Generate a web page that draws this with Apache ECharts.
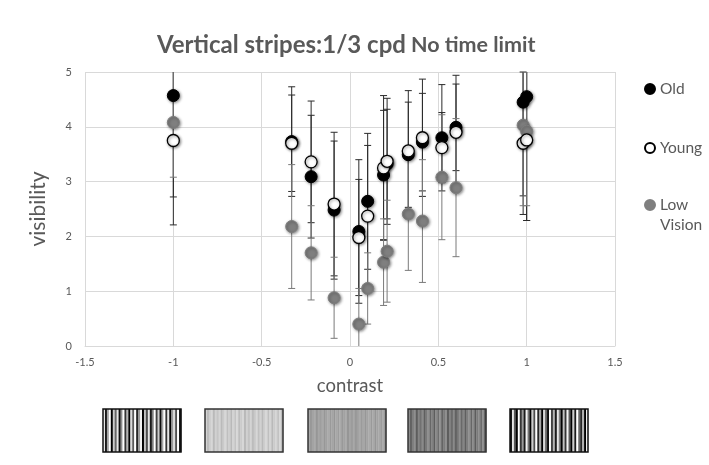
<!DOCTYPE html>
<html>
<head>
<meta charset="utf-8">
<script src="https://cdn.jsdelivr.net/npm/echarts@6/dist/echarts.min.js"></script>
<style>
html, body { margin: 0; padding: 0; background: #fff; }
#chart { width: 709px; height: 465px; }
</style>
</head>
<body>
<div id="chart"></div>
<script>
// contrast of each tested grating (x)
var contrastLevels = [-1, -0.33, -0.22, -0.09, 0.05, 0.10, 0.19, 0.21, 0.33, 0.41, 0.52, 0.60, 0.98, 1.00];

// mean visibility and error bar half-lengths per group
var oldMean   = [4.57, 3.73, 3.09, 2.48, 2.09, 2.64, 3.12, 3.32, 3.49, 3.72, 3.80, 3.99, 4.45, 4.55];
var oldErr    = [1.85, 1.00, 1.12, 1.26, 1.31, 1.24, 1.18, 1.00, 0.96, 0.89, 0.97, 0.79, 1.71, 2.26];
var youngMean = [3.75, 3.70, 3.36, 2.59, 1.98, 2.37, 3.25, 3.37, 3.56, 3.80, 3.62, 3.90, 3.70, 3.76];
var youngErr  = [1.54, 0.88, 1.11, 1.31, 1.06, 1.29, 1.32, 1.15, 1.10, 1.07, 0.64, 1.04, 1.30, 1.47];
var lowMean   = [4.08, 2.18, 1.70, 0.88, 0.40, 1.05, 1.53, 1.73, 2.41, 2.28, 3.08, 2.89, 4.03, 3.92];
var lowErr    = [1.00, 1.13, 0.86, 0.74, 0.65, 0.65, 0.79, 0.93, 1.03, 1.12, 1.14, 1.26, 1.47, 1.36];

var xTicks = { min: -1.5, max: 1.5, step: 0.5 };
var yTicks = { min: 0, max: 5, step: 1 };

// grating patches under the axis (hand picked stripe profile)
var stripeProfile = [0.9, -0.8, 0.3, 1, -1, 0.6, -0.2, 0.8, -0.9, 0.1, 1, -0.6, 0.4, -1, 0.7, -0.3,
                     1, -0.7, 0.2, 0.9, -1, 0.5, -0.4, 0.8, -0.8, 0.0, 1, -0.5, 0.6, -0.9, 0.3, 1,
                     -0.6, 0.8, -1, 0.2, 0.7, -0.4, 1, -0.9];
var patchMean     = [128, 200, 160, 118, 128];
var patchContrast = [1, 0.12, 0.08, 0.2, -1];
var patchLeft     = [103, 205, 308, 408, 510];

var textColor = '#595959';
var fontFamily = 'Lato, "Open Sans", sans-serif';

var chart = echarts.init(document.getElementById('chart'));

function pairs(means, errs) {
  return contrastLevels.map(function (c, i) { return [c, means[i], errs[i]]; });
}

function errorBars(color) {
  return function (params, api) {
    var x = api.value(0), y = api.value(1), e = api.value(2);
    var hi = Math.min(y + e, yTicks.max);
    var lo = Math.max(y - e, yTicks.min);
    var pHi = api.coord([x, hi]);
    var pLo = api.coord([x, lo]);
    var st = { stroke: color, lineWidth: 1 };
    var kids = [{ type: 'line', shape: { x1: pHi[0], y1: pHi[1], x2: pLo[0], y2: pLo[1] }, style: st }];
    if (y + e <= yTicks.max) {
      kids.push({ type: 'line', shape: { x1: pHi[0] - 3.5, y1: pHi[1], x2: pHi[0] + 3.5, y2: pHi[1] }, style: st });
    }
    if (y - e >= yTicks.min) {
      kids.push({ type: 'line', shape: { x1: pLo[0] - 3.5, y1: pLo[1], x2: pLo[0] + 3.5, y2: pLo[1] }, style: st });
    }
    return { type: 'group', children: kids };
  };
}

function shade(v) {
  v = Math.max(0, Math.min(255, Math.round(v)));
  return 'rgb(' + v + ',' + v + ',' + v + ')';
}

function gratingPatches() {
  var out = [];
  var w = 78, h = 43, top = 409;
  var sw = w / stripeProfile.length;
  patchLeft.forEach(function (left, p) {
    var kids = [];
    stripeProfile.forEach(function (n, k) {
      kids.push({
        type: 'rect',
        shape: { x: left + k * sw, y: top, width: sw + 0.3, height: h },
        style: { fill: shade(patchMean[p] + patchContrast[p] * 127 * n) }
      });
    });
    kids.push({
      type: 'rect',
      shape: { x: left, y: top, width: w, height: h },
      style: { fill: 'none', stroke: Math.abs(patchContrast[p]) > 0.5 ? '#111' : '#333', lineWidth: 1.5 }
    });
    out.push({ type: 'group', silent: true, children: kids });
  });
  return out;
}

var markerShadow = { opacity: 1, shadowBlur: 3, shadowColor: 'rgba(0,0,0,0.45)', shadowOffsetX: 1, shadowOffsetY: 1 };

function legendAt(name, top, extra) {
  return Object.assign({
    data: [name],
    orient: 'vertical',
    left: 639,
    top: top,
    icon: 'circle',
    itemWidth: 10,
    itemHeight: 10,
    itemGap: 4,
    selectedMode: false,
    textStyle: { color: textColor, fontSize: 15.5, fontFamily: fontFamily }
  }, extra || {});
}

var option = {
  backgroundColor: '#fff',
  animation: false,
  title: {
    text: '{b|Vertical stripes:1/3 cpd} {n|No time limit}',
    left: 152,
    top: 28,
    textStyle: {
      rich: {
        b: { fontSize: 24, fontWeight: 'bold', color: textColor, fontFamily: fontFamily },
        n: { fontSize: 21.5, color: textColor, fontFamily: fontFamily }
      }
    }
  },
  grid: { left: 85, right: 94, top: 72, bottom: 119 },
  legend: [
    legendAt('Old', 76),
    legendAt('Young', 135),
    legendAt('Low Vision', 170, {
      // blank first line keeps the marker level with "Low"
      formatter: function (name) { return name === 'Low Vision' ? ' \nLow\nVision' : name; },
      textStyle: { color: textColor, fontSize: 15.5, fontFamily: fontFamily, lineHeight: 20 }
    })
  ],
  xAxis: {
    type: 'value',
    min: xTicks.min,
    max: xTicks.max,
    interval: xTicks.step,
    name: 'contrast',
    nameLocation: 'middle',
    nameGap: 31,
    nameTextStyle: { fontSize: 18.5, color: textColor, fontFamily: fontFamily },
    axisLine: { show: true, lineStyle: { color: '#d9d9d9' } },
    axisTick: { show: false },
    axisLabel: { color: textColor, fontSize: 11, fontFamily: fontFamily, margin: 11 },
    splitLine: { show: true, lineStyle: { color: '#d9d9d9' } }
  },
  yAxis: {
    type: 'value',
    min: yTicks.min,
    max: yTicks.max,
    interval: yTicks.step,
    name: 'visibility',
    nameLocation: 'middle',
    nameGap: 36,
    nameTextStyle: { fontSize: 21, color: textColor, fontFamily: fontFamily },
    axisLine: { show: true, lineStyle: { color: '#d9d9d9' } },
    axisTick: { show: false },
    axisLabel: { color: textColor, fontSize: 11, fontFamily: fontFamily, margin: 13 },
    splitLine: { show: true, lineStyle: { color: '#d9d9d9' } }
  },
  graphic: gratingPatches(),
  series: [
    {
      name: 'Old err', type: 'custom', z: 1,
      renderItem: errorBars('#2b2b2b'),
      encode: { x: 0, y: 1 },
      data: pairs(oldMean, oldErr)
    },
    {
      name: 'Young err', type: 'custom', z: 1,
      renderItem: errorBars('#2b2b2b'),
      encode: { x: 0, y: 1 },
      data: pairs(youngMean, youngErr)
    },
    {
      name: 'Low Vision err', type: 'custom', z: 1,
      renderItem: errorBars('#7a7a7a'),
      encode: { x: 0, y: 1 },
      data: pairs(lowMean, lowErr)
    },
    {
      name: 'Old', type: 'scatter', z: 3,
      symbolSize: 12,
      itemStyle: Object.assign({ color: '#000', borderColor: '#000', borderWidth: 1 }, markerShadow),
      data: pairs(oldMean, oldErr)
    },
    {
      name: 'Low Vision', type: 'scatter', z: 3,
      symbolSize: 12,
      itemStyle: Object.assign({ color: '#7f7f7f', borderColor: '#7f7f7f', borderWidth: 1 }, markerShadow),
      data: pairs(lowMean, lowErr)
    },
    {
      name: 'Young', type: 'scatter', z: 3,
      symbolSize: 12,
      itemStyle: Object.assign({ color: '#fff', borderColor: '#000', borderWidth: 1.3 }, markerShadow),
      data: pairs(youngMean, youngErr)
    }
  ]
};

chart.setOption(option);
</script>
</body>
</html>
